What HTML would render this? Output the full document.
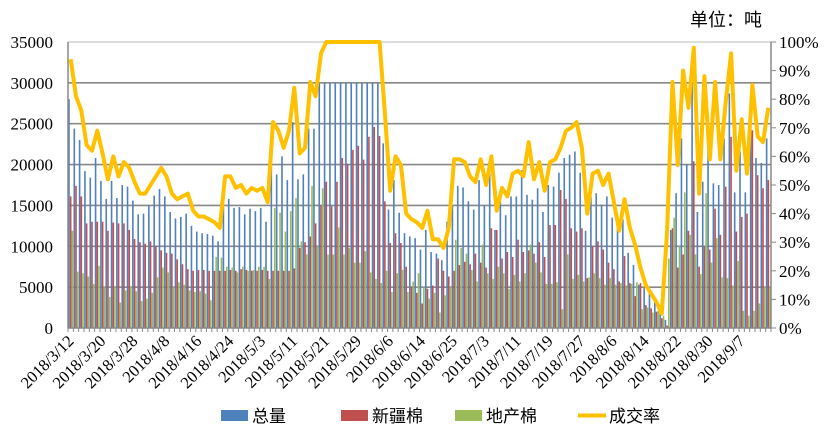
<!DOCTYPE html>
<html><head><meta charset="utf-8"><style>
body{margin:0;background:#fff;width:830px;height:434px;overflow:hidden}
svg text{font-family:"Liberation Serif","Noto Serif CJK SC",serif}
</style></head><body>
<svg id="chart" width="830" height="434" xmlns="http://www.w3.org/2000/svg">
<text x="690" y="26" font-size="18" style="font-family:'Liberation Sans','Noto Sans CJK SC',sans-serif">单位：吨</text>
<g id="grid"></g><g id="bars"></g><g id="axes"></g><g id="line"></g>
<g id="legend">
<rect x="221" y="410" width="27" height="11" fill="#4F81BD"/>
<text x="252" y="422" font-size="17" style="font-family:'Liberation Sans','Noto Sans CJK SC',sans-serif">总量</text>
<rect x="341" y="410" width="27" height="11" fill="#C0504D"/>
<text x="372" y="422" font-size="17" style="font-family:'Liberation Sans','Noto Sans CJK SC',sans-serif">新疆棉</text>
<rect x="455" y="410" width="27" height="11" fill="#9BBB59"/>
<text x="486" y="422" font-size="17" style="font-family:'Liberation Sans','Noto Sans CJK SC',sans-serif">地产棉</text>
<line x1="578" y1="415.5" x2="606" y2="415.5" stroke="#FFC000" stroke-width="4"/>
<text x="609" y="422" font-size="17" style="font-family:'Liberation Sans','Noto Sans CJK SC',sans-serif">成交率</text>
</g>
</svg>
<script>
const xLabels=["2018/3/12","2018/3/20","2018/3/28","2018/4/8","2018/4/16","2018/4/24","2018/5/3","2018/5/11","2018/5/21","2018/5/29","2018/6/6","2018/6/14","2018/6/25","2018/7/3","2018/7/11","2018/7/19","2018/7/27","2018/8/6","2018/8/14","2018/8/22","2018/8/30","2018/9/7"];
const leftTicks=[0,5000,10000,15000,20000,25000,30000,35000];
const rightTicks=["0%","10%","20%","30%","40%","50%","60%","70%","80%","90%","100%"];
const totalK=[28,24.4,23,19.2,18.4,20.8,18,15.8,18,15.9,17.5,17.3,15.6,13.9,14,15,16.2,17,16.1,14.2,13.4,13.6,14,12.5,11.8,11.6,11.5,11.3,10.6,14.8,15.8,14.7,14.8,13.9,14.6,14.3,
14.7,13,20.8,18.8,21,18.1,25.2,18.2,18.8,24.4,24.4,
30,30,30,30,30,30,30,30,30,30,30,30,
22.6,14.5,18.1,14.1,11.6,11.2,11,9.6,12,9.3,9.1,8.3,13,15,17.4,17.2,15.5,14.5,18.1,15,19.1,12,15.6,13.8,16.1,16.1,19.3,16.3,15.7,17.1,
14.2,17.5,17.3,19,20.8,21.2,21.6,19,11.9,16.1,16.5,15.1,16.1,13.5,13.2,13.3,9.2,7.7,5.3,4.9,4.5,3.3,2.6,1,12,16.5,23.2,20,30,14.2,17.9,25.6,17.7,17.5,23.2,28.7,16.6,21.6,16.6,24.4,20.8,20.2,23.2];
const xinjiangK=[16.1,17.4,16.1,12.8,13,13,13,11.9,12.9,12.8,12.8,12,10.9,10.5,10.3,10.6,10,9.5,9.2,9.1,8.4,7.8,7.2,7,7.1,7.1,7,7,7,7,7.1,7,7.2,7.1,7,7,
7.1,7,7,7,7,7,7.3,9.8,10.5,11.2,12.8,15,17.9,14.9,17.9,20.8,20.1,21.8,22.3,20.6,23.4,24.6,23.5,15.5,10.4,11.6,10.4,7.5,5.1,4.3,3,4.8,5.2,8.5,7,6.3,7,7.7,8.1,7.8,9.1,8,7.4,12.2,12,8.5,9.3,8.7,10.8,9.3,9.5,9.1,10.5,
8.7,12.6,12.6,16.9,15.8,12.2,11.8,12.2,6.1,10,10.6,9.6,8,7.2,5.7,8.8,5.5,3.9,5.5,2.8,2.4,2,1.2,0.3,12.2,7.4,9,11.9,20.4,7.5,10,9.6,14.6,11.4,17.3,23.4,11.8,13.6,14,24.2,18.7,17.1,18.1];
const localK=[11.9,6.9,6.7,6.3,5.4,7.6,5,3.8,5,3.1,4.6,5.1,4.5,3.3,3.6,4.3,6.2,7.4,6.8,5,5.6,5.3,4.6,4.4,4.5,4.2,3.4,8.7,8.6,7.5,7.4,6.8,7.5,7,7.1,7.5,
7.5,6,14.7,14.1,11.8,14.3,15.9,10.6,9,17.4,10,17.1,9,9,12.3,9,9.8,8,8,9.4,6.8,6,5.5,7,4.4,6.7,7.1,4.4,5.7,6.7,5,3.6,4.3,1.9,4,5,10.8,9.8,9.1,7.1,5.7,10.2,6.7,6,7.5,6.7,4.8,6.5,5.7,6.7,10.2,8,6.8,
5.4,5.4,5.6,2.3,9,6,6.5,5.7,6.2,6.7,6.1,5.3,6.1,5.3,5.5,5.2,5.4,5.6,2.3,2.5,1.9,2.1,1.5,8.5,13.5,10,16.6,11.4,9,6.6,16.5,8,11,6.2,6.1,5.2,8.2,2.1,1.5,2.1,3,5.1,5];
const ratePct=[94,81,76,64,62,69,61,52,60,53,58,56,51,47,47,50,53,56,53,47,45,46,47,41,39,39,38,37,35,53,53,49,50,47,49,48,49,44,72,69,63,69,84,61,63,86,81,96,
100,100,100,100,100,100,100,100,100,100,100,75,48,60,57,40,38,37,35,41,31,31,28,35,59,59,58,53,51,59,50,60,41,49,46,54,55,53,65,52,58,48,58,59,63,69,70,72,63,40,54,55,50,54,44,34,45,35,29,21,15,12,9,5,34,86,57,90,77,98,47,88,59,86,59,79,96,55,73,54,85,67,65,77];

const NS="http://www.w3.org/2000/svg";
const X0=68,X1=771,Y0=328,Y1=42,N=totalK.length;
const slot=(X1-X0)/N;
function xc(i){return X0+(i+0.5)*slot;}
function yL(v){return Y0-(v/35000)*(Y0-Y1);}
function yR(p){return Y0-(p/100)*(Y0-Y1);}
function mk(tag,attrs,parent){const e=document.createElementNS(NS,tag);for(const k in attrs)e.setAttribute(k,attrs[k]);parent.appendChild(e);return e;}
const grid=document.getElementById('grid'),bars=document.getElementById('bars'),axes=document.getElementById('axes'),line=document.getElementById('line');

leftTicks.forEach((t,k)=>{
  const y=yL(t);
  if(t>0){const g=mk('line',{x1:X0,x2:X1,y1:y,y2:y,stroke:k==7?'#bbb':'#888','stroke-width':k==7?1:1.6},grid);
  
  }
  const tx=mk('text',{x:X0-15,y:y+6,'text-anchor':'end','font-size':17},axes);tx.textContent=t;
  
  
});
rightTicks.forEach((t,k)=>{
  const y=yR(k*10);
  const tx=mk('text',{x:X1+8,y:y+6,'font-size':17},axes);tx.textContent=t;
  
  
  const tk=mk('line',{x1:X1,x2:X1+5,y1:y,y2:y,stroke:'#888'},axes);
  
  
});
const series=[[totalK,'#4F81BD',-1.7,'bar-total'],[xinjiangK,'#C0504D',0,'bar-xinjiang'],[localK,'#9BBB59',1.7,'bar-local']];
series.forEach(s=>{
  s[0].forEach((v,i)=>{
    const y=yL(v*1000);
    const r=mk('rect',{x:xc(i)+s[2]-0.8,y:y,width:1.6,height:Y0-y,fill:s[1]},bars);
    
    
  });
});
let la=mk('line',{x1:X0,x2:X0,y1:Y1,y2:Y0,stroke:'#888','stroke-width':1.5},axes);


let ra=mk('line',{x1:X1,x2:X1,y1:Y1,y2:Y0,stroke:'#888','stroke-width':1.5},axes);


let xa=mk('line',{x1:X0,x2:X1,y1:Y0,y2:Y0,stroke:'#888','stroke-width':1.5},axes);


for(let i=0;i<=N;i++){
  const x=X0+i*slot;
  const t=mk('line',{x1:x,x2:x,y1:Y0,y2:Y0+4,stroke:'#888'},axes);
  
  
}
xLabels.forEach((l,k)=>{
  const x=xc(k*6)+4,y=Y0+14;
  const tx=mk('text',{x:x,y:y,'text-anchor':'end','font-size':16.5,transform:`rotate(-45 ${x} ${y})`},axes);
  tx.textContent=l;
  
  
});
const pts=ratePct.map((p,i)=>xc(i).toFixed(1)+','+yR(p).toFixed(1)).join(' ');
const pl=mk('polyline',{points:pts,fill:'none',stroke:'#FFC000','stroke-width':4,'stroke-linejoin':'round'},line);


</script>
</body></html>
